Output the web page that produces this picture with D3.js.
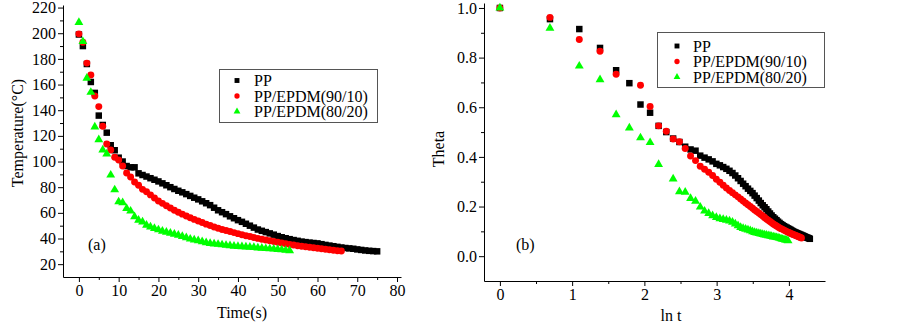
<!DOCTYPE html>
<html>
<head>
<meta charset="utf-8">
<script src="https://cdn.jsdelivr.net/npm/d3@7"></script>
<style>
body { margin: 0; background: #fff; }
svg { display: block; }
.axis path, .axis line { stroke: #000; stroke-width: 1; }
.axis text { font-family: "Liberation Serif", "Times New Roman", serif; font-size: 16px; fill: #000; }
.label-text { font-family: "Liberation Serif", "Times New Roman", serif; font-size: 16px; fill: #000; }
</style>
</head>
<body>
<script>
// ---- data ----
var seriesNames = ["PP", "PP/EPDM(90/10)", "PP/EPDM(80/20)"];
var seriesColors = ["#000000", "#ff0000", "#00ff00"];

// (a) temperature vs time, one reading per second
var timeS = [0,1,2,3,4,5,6,7,8,9,10,11,12,13,14,15,16,17,18,19,20,21,22,23,24,25,26,27,28,29,
  30,31,32,33,34,35,36,37,38,39,40,41,42,43,44,45,46,47,48,49,50,51,52,53,54,55,56,57,58,59,
  60,61,62,63,64,65,66,67,68,69,70,71,72,73,74,75];
var ppTemp = [199,190,176,162,153.5,135.8,128.5,122.5,112.7,108.8,103,100,96.5,95.5,95.5,90.8,89.5,88.3,87,85.8,
  84.5,83,81.5,80,78.6,77.2,76,74.6,73.2,71.8,70.5,69,67.5,66,64,62,60.5,59,57.3,55.8,
  54.3,53,51.5,50,48.5,47,46,45,44,43,41.9,41,40.2,39.5,38.8,38.2,37.6,37.2,36.8,36.5,
  36.2,35.6,35,34.5,34,33.5,33,32.6,32.3,32,31.5,31.1,30.7,30.4,30.2,30];
var pp9010Temp = [199.5,193,176.7,167.5,151,142.8,127.5,113.7,109,103.3,101.2,96.5,91,88,84,81.5,78.3,76.4,74,71.5,
  69.2,67.4,65.6,63.8,62.1,60.5,59,57.6,56.2,54.9,53.6,52.4,51.2,50.1,49,48,47.1,46.2,45.4,44.6,
  43.8,43,42.2,41.5,40.8,40.1,39.5,38.9,38.3,37.7,37.1,36.5,36,35.4,34.9,34.4,34,33.6,33.2,32.8,
  32.4,32,31.6,31.2,30.8,30.5,30.2];
var pp8020Temp = [208.5,193.5,165,154,127,117,109,106,89.5,78,68.6,67.9,63.5,61.4,57,54.3,53,50.4,49.1,47.9,
  46.8,45.8,45,44.2,43.4,42.6,41.6,40.6,39.6,38.9,38.3,37.5,36.8,36.2,35.8,35.5,35.1,34.7,34.4,34.1,
  33.8,33.6,33.4,33.2,33,32.7,32.5,32.2,32,31.8,31.5,31.2,30.8,30.5];

// (b) theta vs ln t
var lnT = [0,0.693,1.099,1.386,1.609,1.792,1.946,2.079,2.197,2.303,2.398,2.485,2.565,2.639,2.708,2.773,2.833,2.890,2.944,2.996,
  3.045,3.091,3.135,3.178,3.219,3.258,3.296,3.332,3.367,3.401,3.434,3.466,3.497,3.526,3.555,3.584,3.611,3.638,3.664,3.689,
  3.714,3.738,3.761,3.784,3.807,3.829,3.850,3.871,3.892,3.912,3.932,3.951,3.970,3.989,4.007,4.025,4.043,4.060,4.078,4.094,
  4.111,4.127,4.143,4.159,4.174,4.190,4.205,4.220,4.234,4.248,4.263,4.277,4.290];
var ppTheta = [1.0,0.955,0.915,0.839,0.749,0.697,0.611,0.578,0.525,0.50,0.474,0.46,0.441,0.430,0.425,0.405,0.397,0.390,0.382,0.372,
  0.366,0.359,0.352,0.344,0.335,0.325,0.314,0.303,0.292,0.282,0.272,0.263,0.254,0.244,0.234,0.224,0.214,0.205,0.197,0.189,
  0.180,0.172,0.164,0.157,0.151,0.145,0.139,0.134,0.129,0.125,0.121,0.118,0.115,0.112,0.109,0.106,0.103,0.100,0.097,0.095,
  0.093,0.091,0.089,0.087,0.085,0.083,0.081,0.079,0.077,0.075,0.074,0.072,0.070];
var pp9010Theta = [1.0,0.962,0.873,0.826,0.733,null,0.689,0.603,0.525,0.503,0.472,0.461,0.434,0.404,0.385,0.362,0.350,0.338,0.325,0.310,
  0.298,0.286,0.275,0.265,0.256,0.247,0.239,0.230,0.222,0.214,0.207,0.200,0.193,0.186,0.180,0.174,0.168,0.162,0.156,0.150,
  0.145,0.140,0.135,0.130,0.126,0.122,0.118,0.114,0.111,0.108,0.105,0.102,0.099,0.096,0.094,0.091,0.089,0.087,0.085,0.083,
  0.081,0.079,0.077,0.075,0.073];
var pp8020Theta = [1.0,0.919,0.766,0.711,0.570,0.517,0.477,0.458,0.370,null,0.311,0.260,0.258,0.233,0.222,0.198,0.182,0.172,0.163,0.156,
  0.151,0.148,0.145,0.142,0.137,0.130,0.123,0.116,0.112,0.109,0.106,0.103,0.099,0.096,0.094,0.092,0.090,0.088,0.086,0.085,
  0.083,0.082,0.080,0.078,0.077,0.075,0.074,0.072,0.070,0.068,0.067,0.065,0.064,0.062];

var tempTicks = [20,40,60,80,100,120,140,160,180,200,220];
var tempMinor = [30,50,70,90,110,130,150,170,190,210];
var timeTicks = [0,10,20,30,40,50,60,70,80];
var timeMinor = [5,15,25,35,45,55,65,75];
var thetaTicks = [0,0.2,0.4,0.6,0.8,1.0];
var thetaMinor = [0.1,0.3,0.5,0.7,0.9];
var lnTicks = [0,1,2,3,4];
var lnMinor = [0.5,1.5,2.5,3.5];

var svg = d3.select("body").append("svg")
    .attr("width", 903)
    .attr("height", 326);

var symbols = [d3.symbolSquare, d3.symbolCircle, d3.symbolTriangle];
var plotSizes = [42, 38, 34];
var legendSizes = [24, 22, 20];

function makeSeries(xs, ysList) {
    return ysList.map(function(ys, k) {
        return {
            name: seriesNames[k],
            color: seriesColors[k],
            symbol: symbols[k],
            points: ys.map(function(v, i) { return {x: xs[i], y: v}; })
                      .filter(function(d) { return d.y != null; })
        };
    });
}

function drawPanel(p) {
    var x = d3.scaleLinear().domain(p.xDomain).range(p.xRange);
    var y = d3.scaleLinear().domain(p.yDomain).range(p.yRange);
    var g = svg.append("g");

    // minor ticks first
    g.append("g")
        .attr("class", "axis")
        .attr("transform", "translate(0," + p.yRange[0] + ")")
        .call(d3.axisBottom(x).tickValues(p.xMinor).tickSize(3).tickFormat(""))
        .select(".domain").remove();
    g.append("g")
        .attr("class", "axis")
        .attr("transform", "translate(" + p.xRange[0] + ",0)")
        .call(d3.axisLeft(y).tickValues(p.yMinor).tickSize(3).tickFormat(""))
        .select(".domain").remove();

    g.append("g")
        .attr("class", "axis")
        .attr("transform", "translate(0," + p.yRange[0] + ")")
        .call(d3.axisBottom(x).tickValues(p.xTicks).tickSize(5).tickSizeOuter(0).tickPadding(3).tickFormat(p.xFormat));
    g.append("g")
        .attr("class", "axis")
        .attr("transform", "translate(" + p.xRange[0] + ",0)")
        .call(d3.axisLeft(y).tickValues(p.yTicks).tickSize(5).tickSizeOuter(0).tickPadding(2).tickFormat(p.yFormat));

    // markers: black, then red, then green on top
    p.series.forEach(function(s, k) {
        g.append("g").selectAll("path")
            .data(s.points)
            .enter()
            .append("path")
            .attr("d", d3.symbol().type(s.symbol).size(plotSizes[k]))
            .attr("transform", function(d) { return "translate(" + x(d.x) + "," + y(d.y) + ")"; })
            .attr("fill", s.color);
    });

    // legend
    var lg = p.legend;
    g.append("rect")
        .attr("x", lg.x).attr("y", lg.y)
        .attr("width", lg.w).attr("height", lg.h)
        .attr("fill", "none")
        .attr("stroke", "#555")
        .attr("stroke-width", 1);
    p.series.forEach(function(s, k) {
        var base = lg.base + k * 15.5;
        g.append("path")
            .attr("d", d3.symbol().type(s.symbol).size(legendSizes[k]))
            .attr("transform", "translate(" + lg.mx + "," + (base - 5.5) + ")")
            .attr("fill", s.color);
        g.append("text")
            .attr("class", "label-text")
            .attr("x", lg.tx)
            .attr("y", base)
            .text(s.name);
    });

    // panel tag
    g.append("text")
        .attr("class", "label-text")
        .attr("x", p.tag.x)
        .attr("y", p.tag.y)
        .text(p.tag.text);

    // axis titles
    g.append("text")
        .attr("class", "label-text")
        .attr("text-anchor", "middle")
        .attr("x", p.xTitle.x)
        .attr("y", p.xTitle.y)
        .text(p.xTitle.text);
    g.append("text")
        .attr("class", "label-text")
        .attr("text-anchor", "middle")
        .attr("transform", "translate(" + p.yTitle.x + "," + p.yTitle.y + ") rotate(-90)")
        .text(p.yTitle.text);
}

drawPanel({
    xDomain: [-4, 81], xRange: [63, 401],
    yDomain: [10, 222], yRange: [277, 5],
    xTicks: timeTicks, xMinor: timeMinor, xFormat: d3.format("d"),
    yTicks: tempTicks, yMinor: tempMinor, yFormat: d3.format("d"),
    series: makeSeries(timeS, [ppTemp, pp9010Temp, pp8020Temp]),
    legend: {x: 219.5, y: 69.5, w: 158, h: 53, mx: 237, tx: 254, base: 86},
    tag: {x: 88, y: 250, text: "(a)"},
    xTitle: {x: 242, y: 318, text: "Time(s)"},
    yTitle: {x: 23, y: 133, text: "Temperature(\u00b0C)"}
});

drawPanel({
    xDomain: [-0.22, 4.5], xRange: [484, 825],
    yDomain: [-0.1, 1.02], yRange: [281, 3],
    xTicks: lnTicks, xMinor: lnMinor, xFormat: d3.format("d"),
    yTicks: thetaTicks, yMinor: thetaMinor, yFormat: d3.format(".1f"),
    series: makeSeries(lnT, [ppTheta, pp9010Theta, pp8020Theta]),
    legend: {x: 657.5, y: 32.5, w: 167, h: 55, mx: 677, tx: 693, base: 51.5},
    tag: {x: 516, y: 250, text: "(b)"},
    xTitle: {x: 671, y: 321, text: "ln t"},
    yTitle: {x: 444, y: 149, text: "Theta"}
});
</script>
</body>
</html>
